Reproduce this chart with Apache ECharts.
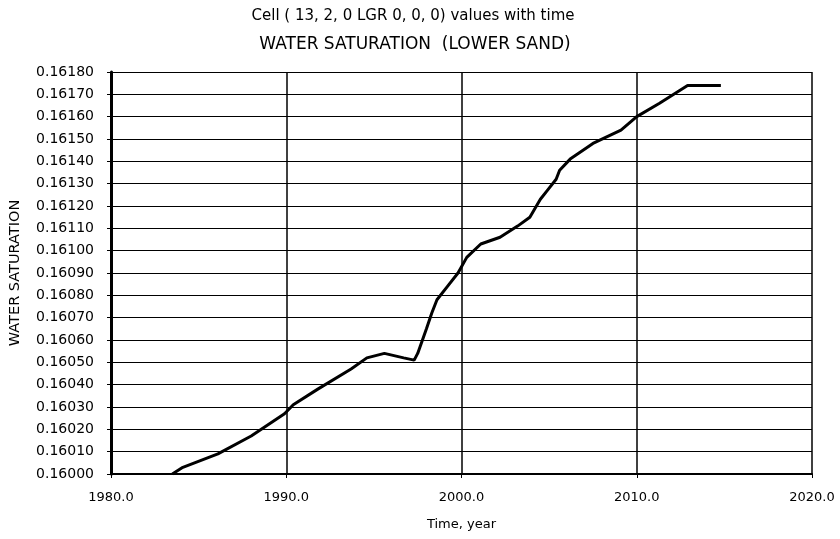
<!DOCTYPE html>
<html>
<head>
<meta charset="utf-8">
<script src="https://cdn.jsdelivr.net/npm/echarts@6/dist/echarts.min.js"></script>
<style>
    html, body { margin: 0; padding: 0; background: #fff; }
    #chart { width: 840px; height: 539px; }
</style>
</head>
<body>
<div id="chart"></div>
<script>
// values
var years = [1983.5, 1984.1, 1986.1, 1988.0, 1989.9, 1990.4, 1991.8, 1993.7, 1994.6, 1995.6,
    1996.7, 1997.3, 1997.5, 1998.0, 1998.3, 1998.6, 1999.2, 1999.8, 2000.3, 2001.1,
    2002.2, 2003.2, 2003.9, 2004.5, 2004.9, 2005.4, 2005.6, 2006.2, 2007.5, 2009.1,
    2010.0, 2011.3, 2012.9, 2014.8];
var saturation = [0.16000, 0.16003, 0.16009, 0.16017, 0.16027, 0.16031, 0.16038, 0.16047, 0.16052, 0.16054,
    0.16052, 0.16051, 0.16054, 0.16065, 0.16072, 0.16078, 0.16084, 0.16090, 0.16097, 0.16103,
    0.16106, 0.16111, 0.16115, 0.16123, 0.16127, 0.16132, 0.16136, 0.16141, 0.16148, 0.16154,
    0.16160, 0.16166, 0.16174, 0.16174];

var xMin = 1980, xMax = 2020, xStep = 10;
var yMin = 0.16000, yMax = 0.16180, yStep = 0.0001;

var titleText = 'Cell ( 13, 2, 0 LGR 0, 0, 0) values with time';
var subTitleText = 'WATER SATURATION  (LOWER SAND)';
var xName = 'Time, year';
var yName = 'WATER SATURATION';

var points = [];
for (var i = 0; i < years.length; i++) {
    points.push([years[i], saturation[i]]);
}

var font = 'DejaVu Sans';
var myChart = echarts.init(document.getElementById('chart'), null, { renderer: 'canvas' });

var option = {
    backgroundColor: '#fff',
    animation: false,
    title: [{
        text: titleText,
        left: 408,
        top: 4,
        textAlign: 'center',
        textStyle: { fontFamily: font, fontSize: 15, fontWeight: 'normal', color: '#000' }
    }, {
        text: subTitleText,
        left: 410,
        top: 31,
        textAlign: 'center',
        textStyle: { fontFamily: font, fontSize: 17, fontWeight: 'normal', color: '#000' }
    }],
    grid: {
        left: 110,
        right: 28,
        top: 72,
        bottom: 65,
        containLabel: false
    },
    xAxis: {
        type: 'value',
        min: xMin,
        max: xMax,
        interval: xStep,
        name: xName,
        nameLocation: 'middle',
        nameGap: 44,
        nameTextStyle: { fontFamily: font, fontSize: 13, color: '#000' },
        axisLine: { show: true, lineStyle: { color: '#000', width: 2 } },
        axisTick: { show: true, length: 4, lineStyle: { color: '#000' } },
        axisLabel: {
            fontFamily: font, fontSize: 13, color: '#000', margin: 17,
            formatter: function (v) { return v.toFixed(1); }
        },
        splitLine: { show: true, lineStyle: { color: '#000', width: 1.5 } }
    },
    yAxis: {
        type: 'value',
        min: yMin,
        max: yMax,
        interval: yStep,
        name: yName,
        nameLocation: 'middle',
        nameGap: 88,
        nameTextStyle: { fontFamily: font, fontSize: 14.5, color: '#000' },
        axisLine: { show: true, lineStyle: { color: '#000', width: 3 } },
        axisTick: { show: true, length: 4, lineStyle: { color: '#000' } },
        axisLabel: {
            fontFamily: font, fontSize: 14, color: '#000', margin: 17,
            formatter: function (v) { return v.toFixed(5); }
        },
        splitLine: { show: true, lineStyle: { color: '#000', width: 1.2 } }
    },
    series: [{
        name: yName,
        type: 'line',
        data: points,
        showSymbol: false,
        lineStyle: { color: '#000', width: 3 },
        z: 5
    }]
};

myChart.setOption(option, true);
</script>
</body>
</html>
